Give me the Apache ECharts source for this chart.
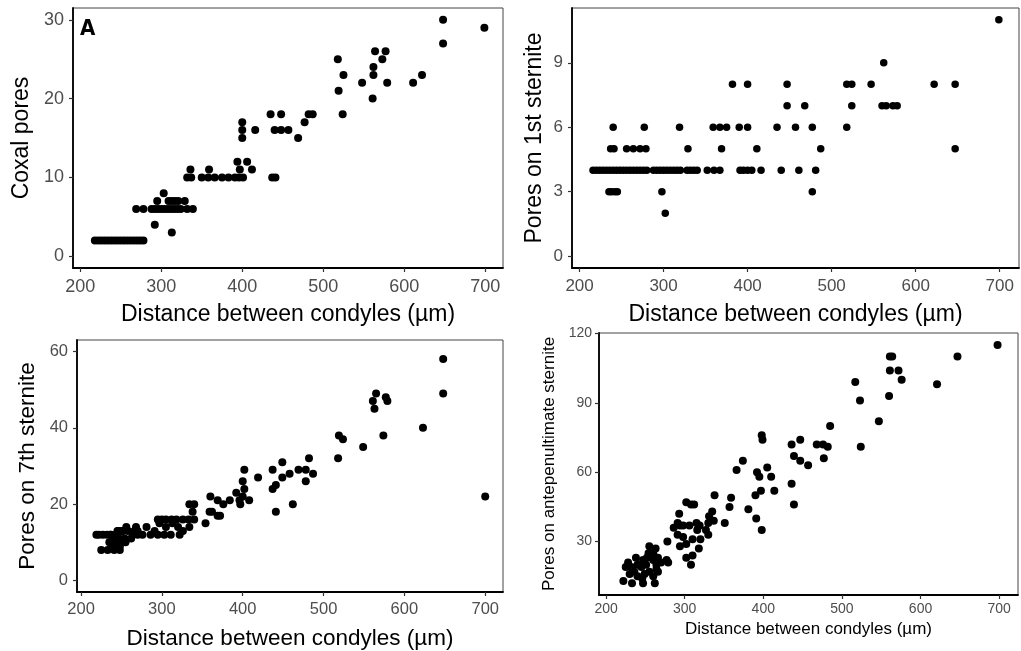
<!DOCTYPE html>
<html>
<head>
<meta charset="utf-8">
<script src="https://cdn.jsdelivr.net/npm/echarts@6/dist/echarts.min.js"></script>
<style>html,body{margin:0;padding:0;background:#fff}#c{width:1021px;height:651px}</style>
</head>
<body>
<div id="c"></div>
<script>
// ---------- data (x = distance between condyles, y = pore count) ----------
const coxalPores = [
  [218,2],[222,2],[226,2],[230,2],[234,2],[238,2],[242,2],[246,2],[250,2],[254,2],[258,2],[262,2],[266,2],[270,2],[274,2],[278,2],
  [269,6],[278,6],[288,6],[292,6],[296,6],[300,6],[304,6],[308,6],[312,6],[316,6],[320,6],[324,6],[332,6],[339,6],
  [292,4],[313,3],
  [295,7],[309,7],[313,7],[317,7],[321,7],[329,7],[303,8],
  [332,10],[337,10],[350,10],[358,10],[366,10],[375,10],[383,10],[391,10],[396,10],[401,10],[437,10],[441,10],
  [336,11],[359,11],[397,11],[412,11],[394,12],[406,12],
  [400,15],[469,15],[400,16],[416,16],[440,16],[448,16],[457,16],[400,17],[477,17],
  [435,18],[448,18],[482,18],[487,18],
  [518,25],[519,21],[525,23],[524,18],[548,22],[579,22],[611,22],[561,20],[562,23],[622,23],[562,24],
  [564,26],[577,26],[573,25],[648,30],[648,27],[699,29]
];
const sternite1Pores = [
  [699,11],[562,9],
  [382,8],[400,8],[447,8],[518,8],[524,8],[547,8],[622,8],[647,8],
  [447,7],[468,7],[524,7],[560,7],[565,7],[573,7],[578,7],
  [240,6],[277,6],[319,6],[359,6],[367,6],[375,6],[390,6],[400,6],[435,6],[457,6],[477,6],[518,6],
  [237,5],[241,5],[256,5],[264,5],[272,5],[279,5],[329,5],[369,5],[411,5],[487,5],[647,5],
  [216,4],[220,4],[224,4],[228,4],[232,4],[236,4],[240,4],[244,4],[248,4],[252,4],[256,4],[260,4],[264,4],[268,4],[272,4],[276,4],[280,4],
  [288,4],[292,4],[296,4],[300,4],[304,4],[308,4],[312,4],[316,4],[320,4],
  [328,4],[332,4],[336,4],[340,4],[352,4],[360,4],[367,4],[391,4],[395,4],[400,4],[405,4],[416,4],[440,4],[461,4],[481,4],
  [235,3],[238,3],[242,3],[245,3],[298,3],[477,3],[302,2]
];
const sternite7Pores = [
  [648,58],[648,49],[565,49],[561,47],[579,47],[577,48],[563,45],[623,40],[574,38],[519,38],[524,37],[549,35],
  [518,32],[482,32],[449,31],[437,29],[469,29],[478,29],[402,29],[458,28],[487,28],[419,27],[449,27],
  [478,26],[400,26],[441,25],[437,24],[402,24],[392,23],[700,22],[360,22],[400,22],
  [369,21],[384,21],[408,21],[396,21],[462,20],[397,20],[376,20],[334,20],[340,20],
  [441,18],[338,18],[359,18],[362,18],[369,17],[372,17],[340,16],[354,15],[334,14],[281,14],
  [295,16],[300,16],[305,16],[312,16],[318,16],[326,16],[333,16],[297,15],[313,15],[305,14],[320,14],
  [291,13],[326,13],[266,13],[270,13],[245,13],[250,13],[258,13],[246,13],[252,13],
  [219,12],[222,12],[227,12],[232,12],[236,12],[264,12],[270,12],[276,12],[286,12],[295,12],[303,12],[311,12],[322,12],[237,12],[243,12],
  [240,11],[247,11],[254,11],[262,11],[235,10],[243,10],[250,10],[255,10],[239,9],[248,9],
  [225,8],[233,8],[241,8],[248,8],[256,14],[268,14]
];
const antepenPores = [
  [698,115],[647,110],[621,98],[561,110],[564,110],[561,104],[572,104],[576,100],[560,93],[517,99],[523,91],
  [547,82],[485,80],[524,71],[447,74],[436,72],[468,72],[476,72],[482,71],[477,66],[439,67],[447,65],[457,63],
  [398,76],[399,74],[374,65],[366,61],[392,60],[405,62],[395,58],[410,58],[436,55],[414,52],[397,52],[390,50],
  [439,46],[381,44],[391,40],[398,35],[338,50],[359,49],[357,45],[351,38],
  [302,47],[308,46],[312,46],[293,42],[335,43],[331,41],[337,39],[291,38],
  [286,36],[294,37],[298,37],[306,37],[315,38],[319,37],[330,38],[291,33],[298,32],[330,33],[327,35],
  [310,31],[320,31],[316,35],[302,29],[294,28],[278,30],[318,27],[302,23],[310,24],[308,20],
  [222,13],[225,19],[233,12],[247,12],[262,12],[255,28],[263,27],[277,22],[279,21],[238,23],[228,21],
  [232,19],[245,19],[251,20],[260,22],[266,23],[236,17],[240,15],[249,16],[255,17],[264,18],
  [240,20],[247,22],[254,25],[230,16],[260,15],[246,14],[264,20],[270,21],[266,17],[252,23],[260,25]
];
const xTicks = [200, 300, 400, 500, 600, 700];
const yTicksA = [0, 10, 20, 30];
const yTicksB = [0, 3, 6, 9];
const yTicksC = [0, 20, 40, 60];
const yTicksD = [30, 60, 90, 120];

const xTitle = 'Distance between condyles (µm)';
const FONT = 'Liberation Sans, Arial, sans-serif';

function xAxis(gi, min, max, fs, tfs, gap, margin) {
  return {
    type: 'value', gridIndex: gi, min: min, max: max,
    name: xTitle, nameLocation: 'middle', nameGap: gap,
    nameTextStyle: { color: '#000', fontSize: tfs, fontFamily: FONT },
    axisLine: { show: true, onZero: false, lineStyle: { color: '#000', width: 1.8 } },
    axisTick: { show: true, customValues: xTicks, length: 4, lineStyle: { color: '#333', width: 1.2 } },
    axisLabel: { customValues: xTicks, color: '#4D4D4D', fontSize: fs, fontFamily: FONT, margin: margin },
    splitLine: { show: false }
  };
}
function yAxis(gi, min, max, ticks, name, fs, tfs, gap, margin) {
  return {
    type: 'value', gridIndex: gi, min: min, max: max,
    name: name, nameLocation: 'middle', nameGap: gap, nameRotate: 90,
    nameTextStyle: { color: '#000', fontSize: tfs, fontFamily: FONT },
    axisLine: { show: true, onZero: false, lineStyle: { color: '#000', width: 1.8 } },
    axisTick: { show: true, customValues: ticks, length: 4, lineStyle: { color: '#333', width: 1.2 } },
    axisLabel: { customValues: ticks, color: '#4D4D4D', fontSize: fs, fontFamily: FONT, margin: margin },
    splitLine: { show: false }
  };
}
function scatter(i, data, size) {
  return {
    type: 'scatter', xAxisIndex: i, yAxisIndex: i, data: data,
    symbolSize: size, itemStyle: { color: '#000', opacity: 1 }, silent: true, animation: false
  };
}

const chart = echarts.init(document.getElementById('c'), null, { renderer: 'canvas' });
const gridStyle = { show: true, borderColor: '#444', borderWidth: 1, backgroundColor: '#fff' };
chart.setOption({
  animation: false,
  backgroundColor: '#fff',
  grid: [
    Object.assign({ left: 73, top: 8, width: 430, height: 260 }, gridStyle),
    Object.assign({ left: 572, top: 8, width: 447, height: 260 }, gridStyle),
    Object.assign({ left: 77, top: 340, width: 426, height: 254 }, gridStyle),
    Object.assign({ left: 599, top: 333, width: 419, height: 262 }, gridStyle)
  ],
  xAxis: [
    xAxis(0, 191, 722, 18, 23, 35, 10),
    xAxis(1, 191, 723, 17, 23, 35, 10),
    xAxis(2, 195, 722, 16.5, 22.5, 35, 9),
    xAxis(3, 191, 724, 14, 17, 26, 7)
  ],
  yAxis: [
    yAxis(0, -1.5, 31.5, yTicksA, 'Coxal pores', 18, 23, 40, 9),
    yAxis(1, -0.55, 11.55, yTicksB, 'Pores on 1st sternite', 17, 23, 26, 9),
    yAxis(2, -3, 63, yTicksC, 'Pores on 7th sternite', 16.5, 22.5, 38, 9),
    yAxis(3, 6.9, 120.2, yTicksD, 'Pores on antepenultimate sternite', 14, 17, 41, 7)
  ],
  graphic: [
    { type: 'text', left: 80, top: 18, style: { text: 'A', fontSize: 22, fontWeight: 'bold', fontFamily: 'DejaVu Sans Condensed, DejaVu Sans, sans-serif', fill: '#000' } }
  ],
  series: [
    scatter(0, coxalPores, 8),
    scatter(1, sternite1Pores, 7.5),
    scatter(2, sternite7Pores, 8),
    scatter(3, antepenPores, 8)
  ]
});
</script>
</body>
</html>
